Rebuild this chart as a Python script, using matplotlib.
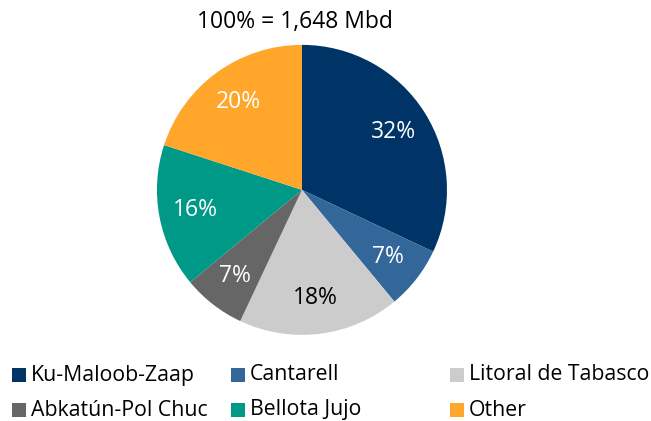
import matplotlib.pyplot as plt
from matplotlib.patches import Rectangle

plt.rcParams['font.family'] = ['Open Sans', 'DejaVu Sans']

labels = ["Ku-Maloob-Zaap", "Cantarell", "Litoral de Tabasco",
          "Abkatún-Pol Chuc", "Bellota Jujo", "Other"]
shares = [32, 7, 18, 7, 16, 20]
colors = ['#003366', '#336699', '#cccccc', '#666666', '#009988', '#ffa62b']
text_colors = ['white', 'white', 'black', 'white', 'white', 'white']
title = "100% = 1,648 Mbd"

fig = plt.figure(figsize=(6.51, 4.21), dpi=100)
ax = fig.add_axes([0.2411, 0.2046, 0.4455, 0.6888])

wedges, texts, autotexts = ax.pie(shares, colors=colors, startangle=90, counterclock=False,
                                  autopct='%d%%', pctdistance=0.75,
                                  wedgeprops=dict(linewidth=0))
for t, c in zip(autotexts, text_colors):
    t.set_color(c)
    t.set_fontsize(16.5)
ax.set_xlim(-1, 1)
ax.set_ylim(-1, 1)
ax.set_aspect('equal')

fig.text(0.453, 0.948, title, ha='center', va='center', fontsize=16.5)

# legend, laid out in a fixed 3-column grid
col_x = [12, 231, 450]
row_y = [375, 410]
for i, (lab, col) in enumerate(zip(labels, colors)):
    x = col_x[i % 3]
    y = row_y[i // 3]
    fig.add_artist(Rectangle((x / 651, 1 - (y + 7) / 421), 14 / 651, 14 / 421,
                             transform=fig.transFigure, facecolor=col, edgecolor='none'))
    fig.text((x + 19) / 651, 1 - y / 421, lab, ha='left', va='center', fontsize=15.3)

fig.savefig("out.png", dpi=100)
